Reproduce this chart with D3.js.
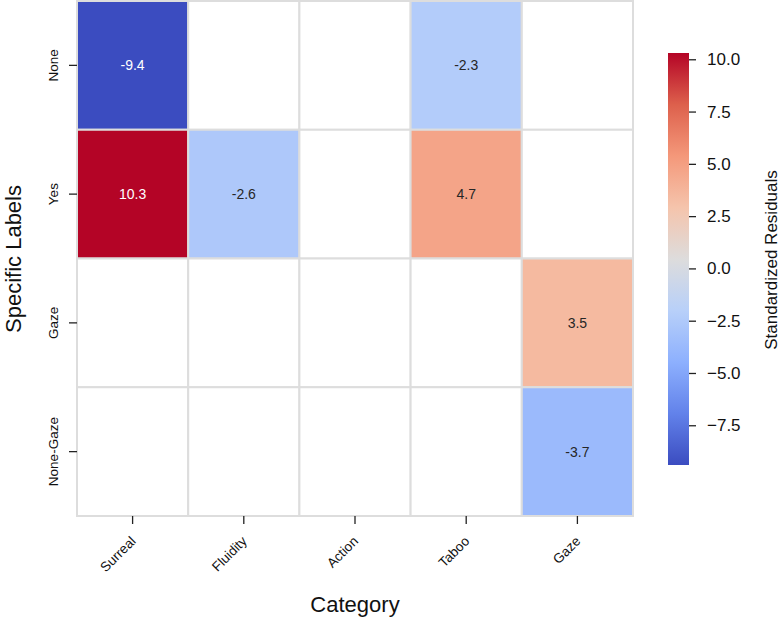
<!DOCTYPE html>
<html>
<head>
<meta charset="utf-8">
<script src="https://cdn.jsdelivr.net/npm/d3@7"></script>
<style>
  body { margin: 0; background: #fff; }
  svg { display: block; font-family: "Liberation Sans", Arial, sans-serif; }
</style>
</head>
<body>
<svg id="chart" width="780" height="621"></svg>
<script>
const categories = ["Surreal", "Fluidity", "Action", "Taboo", "Gaze"];
const labels = ["None", "Yes", "Gaze", "None-Gaze"];
// standardized residuals per label row, null = masked cell
const residualsNone = [-9.4, null, null, -2.3, null];
const residualsYes = [10.3, -2.6, null, 4.7, null];
const residualsGaze = [null, null, null, null, 3.5];
const residualsNoneGaze = [null, null, null, null, -3.7];
const colorbarTicks = [-7.5, -5.0, -2.5, 0.0, 2.5, 5.0, 7.5, 10.0];
// matplotlib coolwarm sampled at 9 even steps
const coolwarm = ["#3b4cc0", "#6282ea", "#8db0fe", "#b8d0f9", "#dddcdc",
  "#f5c4ac", "#f4987a", "#dd604c", "#b40426"];

const rowsData = [residualsNone, residualsYes, residualsGaze, residualsNoneGaze];

const cells = [];
rowsData.forEach((row, i) => {
  row.forEach((v, j) => {
    cells.push({ label: labels[i], category: categories[j], value: v });
  });
});

const svg = d3.select("#chart");

const x = d3.scaleBand().domain(categories).range([77, 633]);
const y = d3.scaleBand().domain(labels).range([1, 516]);

const extent = d3.extent(cells.filter((d) => d.value !== null), (d) => d.value);
const t = d3.scaleLinear().domain(extent).range([0, 1]);
const ramp = d3.scaleLinear()
  .domain(d3.range(coolwarm.length).map((i) => i / (coolwarm.length - 1)))
  .range(coolwarm)
  .interpolate(d3.interpolateRgb);
const color = (v) => ramp(t(v));

// cells
svg.append("g")
  .selectAll("rect")
  .data(cells)
  .join("rect")
  .attr("x", (d) => x(d.category))
  .attr("y", (d) => y(d.label))
  .attr("width", x.bandwidth())
  .attr("height", y.bandwidth())
  .attr("fill", (d) => (d.value === null ? "#ffffff" : color(d.value)))
  .attr("stroke", "#dddddd")
  .attr("stroke-width", 2);

svg.append("g")
  .selectAll("text")
  .data(cells.filter((d) => d.value !== null))
  .join("text")
  .attr("x", (d) => x(d.category) + x.bandwidth() / 2)
  .attr("y", (d) => y(d.label) + y.bandwidth() / 2)
  .attr("text-anchor", "middle")
  .attr("dominant-baseline", "central")
  .attr("font-size", 14)
  .attr("fill", (d) => (Math.abs(d.value) > 7 ? "#ffffff" : "#262626"))
  .text((d) => d.value.toFixed(1));

// x axis
const xAxisG = svg.append("g")
  .attr("transform", "translate(0,516)")
  .call(d3.axisBottom(x).tickSize(8).tickPadding(0));
xAxisG.select(".domain").remove();
xAxisG.selectAll(".tick line").attr("stroke", "#222").attr("stroke-width", 1.3);
xAxisG.selectAll(".tick text")
  .attr("font-size", 13.5)
  .attr("fill", "#111")
  .attr("text-anchor", "end")
  .attr("dy", 0)
  .attr("y", 0)
  .attr("transform", "translate(4,26) rotate(-45)");

// y axis
const yAxisG = svg.append("g")
  .attr("transform", "translate(77,0)")
  .call(d3.axisLeft(y).tickSize(8).tickPadding(0));
yAxisG.select(".domain").remove();
yAxisG.selectAll(".tick line").attr("stroke", "#222").attr("stroke-width", 1.3);
yAxisG.selectAll(".tick text")
  .attr("font-size", 13.5)
  .attr("fill", "#111")
  .attr("text-anchor", "middle")
  .attr("x", 0)
  .attr("dy", 0)
  .attr("transform", "translate(-19,0) rotate(-90)");

// axis titles
svg.append("text")
  .attr("x", 355)
  .attr("y", 612)
  .attr("text-anchor", "middle")
  .attr("font-size", 22)
  .attr("fill", "#111")
  .text("Category");

svg.append("text")
  .attr("transform", "translate(21,259) rotate(-90)")
  .attr("text-anchor", "middle")
  .attr("font-size", 22)
  .attr("fill", "#111")
  .text("Specific Labels");

// colorbar
const cbX = 668;
const cbW = 21;
const cbScale = d3.scaleLinear().domain(extent).range([465, 53]);

const grad = svg.append("defs").append("linearGradient")
  .attr("id", "cb-grad")
  .attr("x1", 0).attr("y1", 1).attr("x2", 0).attr("y2", 0);
grad.selectAll("stop")
  .data(coolwarm)
  .join("stop")
  .attr("offset", (d, i) => i / (coolwarm.length - 1))
  .attr("stop-color", (d) => d);

svg.append("rect")
  .attr("x", cbX)
  .attr("y", cbScale(extent[1]))
  .attr("width", cbW)
  .attr("height", cbScale(extent[0]) - cbScale(extent[1]))
  .attr("fill", "url(#cb-grad)");

const cbAxisG = svg.append("g")
  .attr("transform", `translate(${cbX + cbW},0)`)
  .call(d3.axisRight(cbScale).tickValues(colorbarTicks)
    .tickFormat(d3.format(".1f")).tickSize(7).tickPadding(11));
cbAxisG.select(".domain").remove();
cbAxisG.selectAll(".tick line").attr("stroke", "#222").attr("stroke-width", 1.3);
cbAxisG.selectAll(".tick text").attr("font-size", 17).attr("fill", "#111");

svg.append("text")
  .attr("transform", "translate(777,260) rotate(-90)")
  .attr("text-anchor", "middle")
  .attr("font-size", 17)
  .attr("fill", "#111")
  .text("Standardized Residuals");
</script>
</body>
</html>
